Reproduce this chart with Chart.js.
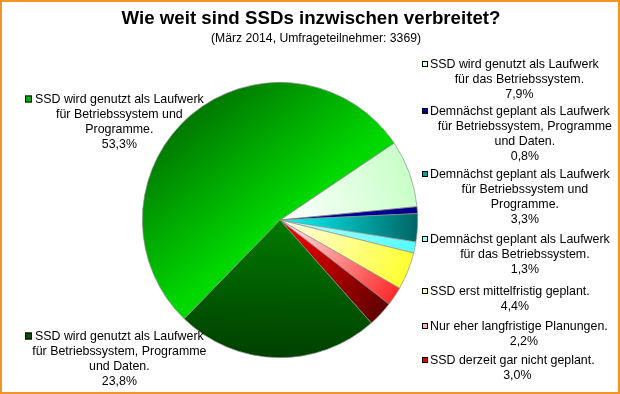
<!DOCTYPE html>
<html>
<head>
<meta charset="utf-8">
<script src="https://cdn.jsdelivr.net/npm/chart.js@4.4.1/dist/chart.umd.min.js"></script>
<style>
  html, body { margin: 0; padding: 0; background: #fff; }
  #chart { display: block; }
</style>
</head>
<body>
<canvas id="chart" width="620" height="394"></canvas>
<script>
// data (clockwise, starting at the light green slice)
const categories = [
    ["SSD wird genutzt als Laufwerk", "für das Betriebssystem."],
    ["Demnächst geplant als Laufwerk", "für Betriebssystem, Programme", "und Daten."],
    ["Demnächst geplant als Laufwerk", "für Betriebssystem und", "Programme."],
    ["Demnächst geplant als Laufwerk", "für das Betriebssystem."],
    ["SSD erst mittelfristig geplant."],
    ["Nur eher langfristige Planungen."],
    ["SSD derzeit gar nicht geplant."],
    ["SSD wird genutzt als Laufwerk", "für Betriebssystem, Programme", "und Daten."],
    ["SSD wird genutzt als Laufwerk", "für Betriebssystem und", "Programme."]
];
const shares = [7.9, 0.8, 3.3, 1.3, 4.4, 2.2, 3.0, 23.8, 53.3];

const titleText = "Wie weit sind SSDs inzwischen verbreitet?";
const subtitleText = "(März 2014, Umfrageteilnehmer: 3369)";

// gradient colours: near centre -> at rim
const innerColors = ["#ffffff", "#0000a8", "#00ffff", "#b8ffff", "#ffffee", "#ffeeee", "#ff0000", "#007a00", "#00d800"];
const outerColors = ["#c8ffc8", "#000088", "#006464", "#55ffff", "#ffff30", "#ff2a2a", "#600000", "#004000", "#007800"];
const keyColors   = ["#e0ffe0", "#0000a0", "#00a0a0", "#a0ffff", "#ffffa0", "#ffb0b0", "#dd0000", "#005500", "#00b000"];

// label placement: side, first line centre y
const labelPlaces = [
    { side: "r", y: 65 }, { side: "r", y: 112 }, { side: "r", y: 175 },
    { side: "r", y: 240 }, { side: "r", y: 292 }, { side: "r", y: 327 },
    { side: "r", y: 361 }, { side: "l", y: 337 }, { side: "l", y: 100 }
];

const FONT = "Liberation Sans, Arial, sans-serif";

function sliceGradient(context) {
    const chart = context.chart;
    const i = context.dataIndex;
    const area = chart.chartArea;
    if (!area) return outerColors[i];
    const cx = (area.left + area.right) / 2;
    const cy = (area.top + area.bottom) / 2;
    const r = Math.min(area.right - area.left, area.bottom - area.top) / 2;
    const total = shares.reduce((a, b) => a + b, 0);
    let before = 0;
    for (let k = 0; k < i; k++) before += shares[k];
    const start = chart.options.rotation * Math.PI / 180 - Math.PI / 2;
    const mid = start + 2 * Math.PI * (before + shares[i] / 2) / total;
    const g = chart.ctx.createLinearGradient(cx, cy, cx + r * Math.cos(mid), cy + r * Math.sin(mid));
    g.addColorStop(0, innerColors[i]);
    g.addColorStop(1, outerColors[i]);
    return g;
}

const decorPlugin = {
    id: "decor",
    beforeDraw(chart) {
        const ctx = chart.ctx;
        ctx.save();
        ctx.fillStyle = "#fff";
        ctx.fillRect(0, 0, chart.width, chart.height);
        ctx.restore();
    },
    afterDraw(chart) {
        const ctx = chart.ctx;
        ctx.save();
        ctx.fillStyle = "#000";
        ctx.textBaseline = "middle";
        ctx.textAlign = "center";
        ctx.font = "bold 18.7px " + FONT;
        ctx.fillText(titleText, 311, 19);
        ctx.font = "12.2px " + FONT;
        ctx.fillText(subtitleText, 316, 39);

        ctx.font = "12.4px " + FONT;
        const lh = 15;
        categories.forEach((lines, i) => {
            const place = labelPlaces[i];
            const all = lines.concat([shares[i].toFixed(1).replace(".", ",") + "%"]);
            const w1 = ctx.measureText(all[0]).width;
            let x0, cx, keyX, keySize;
            if (place.side === "r") {
                x0 = 430; keyX = 422; keySize = 6;
                cx = x0 + w1 / 2 + 5;
            } else {
                x0 = 35; keyX = 25; keySize = 7;
                cx = x0 + w1 / 2;
            }
            // legend key
            ctx.fillStyle = keyColors[i];
            ctx.fillRect(keyX, place.y - keySize / 2 - 1, keySize, keySize);
            ctx.strokeStyle = "#000";
            ctx.lineWidth = 1;
            ctx.strokeRect(keyX + 0.5, place.y - keySize / 2 - 0.5, keySize - 1, keySize - 1);
            ctx.fillStyle = "#000";
            ctx.textAlign = "left";
            ctx.fillText(all[0], x0, place.y);
            ctx.textAlign = "center";
            for (let k = 1; k < all.length; k++) {
                ctx.fillText(all[k], cx, place.y + k * lh);
            }
        });

        // outer frame
        ctx.strokeStyle = "#f39425";
        ctx.lineWidth = 2;
        ctx.strokeRect(1, 1, chart.width - 2, chart.height - 2);
        ctx.restore();
    }
};

new Chart(document.getElementById("chart").getContext("2d"), {
    type: "pie",
    data: {
        labels: categories.map((l) => l.join(" ")),
        datasets: [{
            data: shares,
            backgroundColor: sliceGradient,
            borderColor: "#8f8f8f",
            borderWidth: 0.7
        }]
    },
    options: {
        responsive: false,
        animation: false,
        rotation: 56,
        layout: { padding: { left: 142, right: 202, top: 82, bottom: 36 } },
        plugins: {
            legend: { display: false },
            title: { display: false },
            tooltip: { enabled: false }
        }
    },
    plugins: [decorPlugin]
});
</script>
</body>
</html>
